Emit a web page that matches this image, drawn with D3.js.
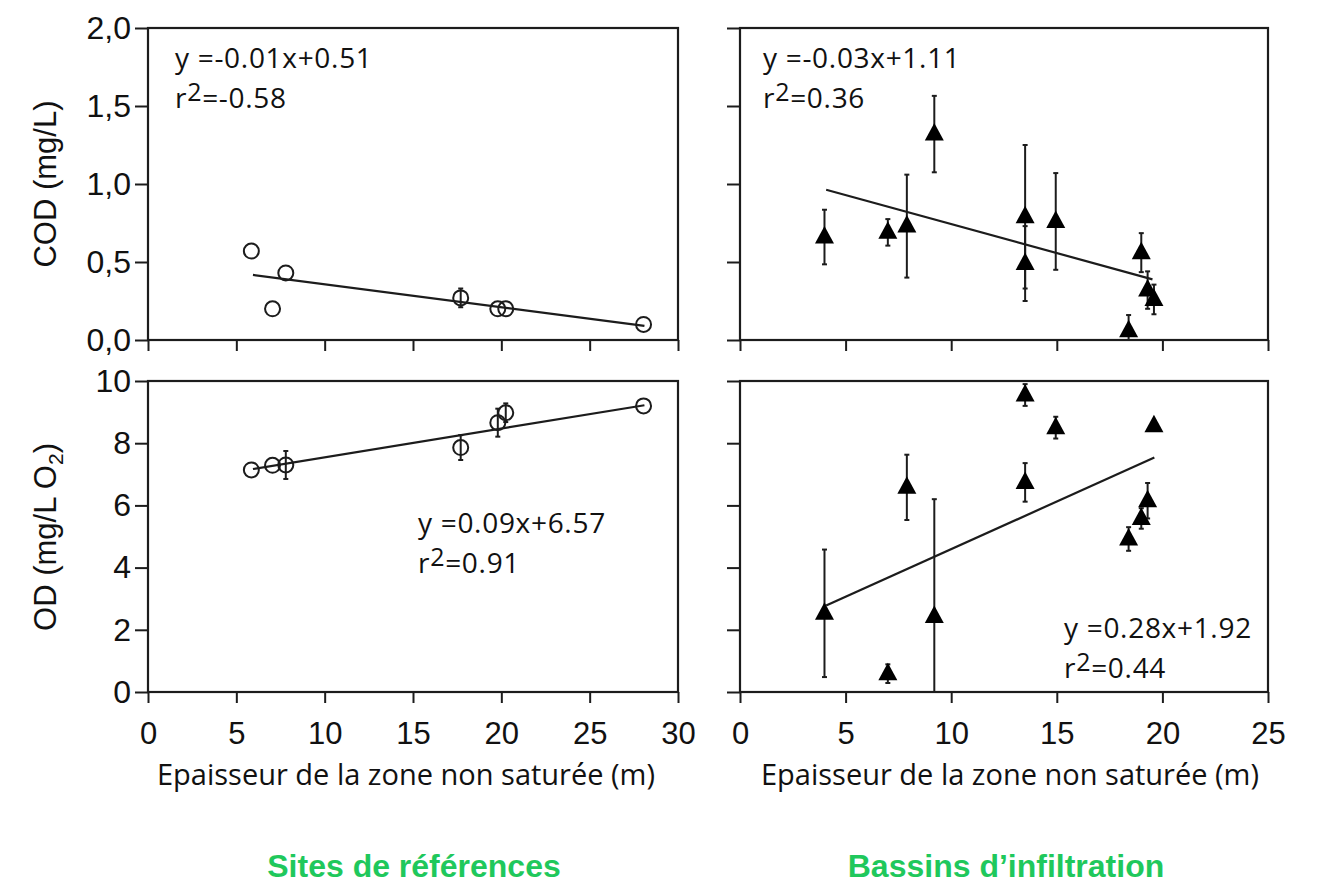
<!DOCTYPE html>
<html>
<head>
<meta charset="utf-8">
<script src="https://cdnjs.cloudflare.com/ajax/libs/d3/7.8.5/d3.min.js"></script>
<style>
    body { margin: 0; background: #ffffff; }
</style>
</head>
<body>
<div id="chart"></div>
<script>
// COD / OD vs thickness of the unsaturated zone
// left = reference sites (circles), right = infiltration basins (triangles)

// Reference sites: depth of unsaturated zone (m)
var refDepth = [5.85, 7.05, 7.8, 17.7, 19.8, 20.25, 28.05];
var refCOD = [0.57, 0.20, 0.43, 0.27, 0.20, 0.20, 0.10];
var refCODErr = [0, 0, 0, 0.06, 0, 0, 0];
var refOD = [7.14, 7.29, 7.30, 7.86, 8.66, 8.98, 9.20];
var refODErr = [0, 0, 0.45, 0.40, 0.45, 0.30, 0];

// Infiltration basins
var basinDepth = [4.0, 7.0, 7.9, 9.2, 13.5, 13.5, 14.95, 18.4, 19.0, 19.3, 19.6];
var basinCOD = [0.66, 0.69, 0.73, 1.32, 0.79, 0.49, 0.76, 0.06, 0.56, 0.32, 0.26];
var basinCODErr = [0.175, 0.085, 0.33, 0.245, 0.46, 0.24, 0.31, 0.10, 0.125, 0.12, 0.095];
var basinOD = [2.53, 0.59, 6.58, 2.43, 9.55, 6.74, 8.50, 4.92, 5.58, 6.15, 8.56];
var basinODErr = [2.05, 0.30, 1.05, 3.77, 0.35, 0.62, 0.35, 0.38, 0.33, 0.57, 0];

// Regression lines, read as [start, end] points
var refCODFit = [[5.94, 0.417], [28.1, 0.09]];
var refODFit = [[5.94, 7.17], [28.1, 9.22]];
var basinCODFit = [[4.08, 0.963], [19.53, 0.389]];
var basinODFit = [[4.08, 2.78], [19.62, 7.54]];

// Equation texts
var refCODEq = ["y =-0.01x+0.51", "=-0.58"];
var refODEq = ["y =0.09x+6.57", "=0.91"];
var basinCODEq = ["y =-0.03x+1.11", "=0.36"];
var basinODEq = ["y =0.28x+1.92", "=0.44"];

// Axis ticks
var codTicks = [0, 0.5, 1.0, 1.5, 2.0];
var odTicks = [0, 2, 4, 6, 8, 10];
var refXTicks = [0, 5, 10, 15, 20, 25, 30];
var basinXTicks = [0, 5, 10, 15, 20, 25];

var xTitle = "Epaisseur de la zone non saturée (m)";
var groupTitles = ["Sites de références", "Bassins d\u2019infiltration"];

(function() {

    var width = 1319;
    var height = 895;
    var ink = "#1c1c1c";
    var eqFont = "'Open Sans', 'DejaVu Sans', sans-serif";
    var axFont = "'Liberation Sans', Arial, sans-serif";

    var svg = d3.select("#chart")
        .append("svg")
        .attr("width", width)
        .attr("height", height);

    svg.append("rect")
        .attr("width", width)
        .attr("height", height)
        .attr("fill", "#ffffff");

    // Scales
    var xRef = d3.scaleLinear().domain([0, 30]).range([148, 678]);
    var xBasin = d3.scaleLinear().domain([0, 25]).range([740, 1268]);
    var yCOD = d3.scaleLinear().domain([0, 2]).range([340, 28]);
    var yOD = d3.scaleLinear().domain([0, 10]).range([692, 381]);

    function commaFormat(d) {
        return d3.format(".1f")(d).replace(".", ",");
    }

    function drawPanel(opt) {
        var x = opt.x;
        var y = opt.y;
        var g = svg.append("g");
        var x0 = x.range()[0], x1 = x.range()[1];
        var y0 = y.range()[1], y1 = y.range()[0];

        // Frame
        g.append("rect")
            .attr("x", x0)
            .attr("y", y0)
            .attr("width", x1 - x0)
            .attr("height", y1 - y0)
            .attr("fill", "none")
            .attr("stroke", ink)
            .attr("stroke-width", 2.2);

        // Bottom axis: ticks pointing down, labels only on lower row
        var xAxis = d3.axisBottom(x)
            .tickValues(opt.xTicks)
            .tickSize(11)
            .tickPadding(19)
            .tickFormat(opt.xLabels ? d3.format("d") : "");

        var xg = g.append("g")
            .attr("transform", "translate(0," + y1 + ")")
            .call(xAxis);

        xg.select(".domain").remove();
        xg.selectAll(".tick line")
            .attr("stroke", ink)
            .attr("stroke-width", 2);
        xg.selectAll(".tick text")
            .attr("fill", "#111")
            .style("font-family", axFont)
            .style("font-size", "31px");

        // Left axis
        var yAxis = d3.axisLeft(y)
            .tickValues(opt.yTicks)
            .tickSize(13)
            .tickPadding(4)
            .tickFormat(opt.yLabels ? opt.yFormat : "");

        var yg = g.append("g")
            .attr("transform", "translate(" + x0 + ",0)")
            .call(yAxis);

        yg.select(".domain").remove();
        yg.selectAll(".tick line")
            .attr("stroke", ink)
            .attr("stroke-width", 2);
        yg.selectAll(".tick text")
            .attr("fill", "#111")
            .style("font-family", axFont)
            .style("font-size", "32px");

        // Error bars
        var ymin = y.domain()[0], ymax = y.domain()[1];
        var errs = opt.depth.map(function(d, i) {
            return { x: d, v: opt.values[i], e: opt.errors[i] };
        }).filter(function(d) {
            return d.e > 0;
        });

        var eb = g.append("g");
        eb.selectAll(".err")
            .data(errs)
            .enter()
            .append("line")
            .attr("x1", function(d) { return x(d.x); })
            .attr("x2", function(d) { return x(d.x); })
            .attr("y1", function(d) { return y(Math.min(ymax, d.v + d.e)); })
            .attr("y2", function(d) { return y(Math.max(ymin, d.v - d.e)); })
            .attr("stroke", ink)
            .attr("stroke-width", 2);

        // Little caps at the end of each bar
        errs.forEach(function(d) {
            [d.v + d.e, d.v - d.e].forEach(function(v) {
                if (v < ymin || v > ymax) {
                    return;
                }
                eb.append("line")
                    .attr("x1", x(d.x) - 2.5)
                    .attr("x2", x(d.x) + 2.5)
                    .attr("y1", y(v))
                    .attr("y2", y(v))
                    .attr("stroke", ink)
                    .attr("stroke-width", 2);
            });
        });

        // Regression line
        g.append("line")
            .attr("x1", x(opt.fit[0][0]))
            .attr("y1", y(opt.fit[0][1]))
            .attr("x2", x(opt.fit[1][0]))
            .attr("y2", y(opt.fit[1][1]))
            .attr("stroke", ink)
            .attr("stroke-width", 2.2);

        // Points
        var pts = opt.depth.map(function(d, i) {
            return { x: d, v: opt.values[i] };
        });

        if (opt.marker === "circle") {
            g.selectAll(".pt")
                .data(pts)
                .enter()
                .append("circle")
                .attr("cx", function(d) { return x(d.x); })
                .attr("cy", function(d) { return y(d.v); })
                .attr("r", 7.5)
                .attr("fill", "none")
                .attr("stroke", ink)
                .attr("stroke-width", 2);
        } else {
            g.selectAll(".pt")
                .data(pts)
                .enter()
                .append("path")
                .attr("transform", function(d) {
                    return "translate(" + x(d.x) + "," + y(d.v) + ")";
                })
                .attr("d", "M0,-11L9.5,6.5L-9.5,6.5Z")
                .attr("fill", "#000");
        }

        // Equation
        var eq = g.append("g")
            .style("font-family", eqFont)
            .style("font-size", "28px")
            .style("letter-spacing", "0.7px")
            .attr("fill", "#111");

        eq.append("text")
            .attr("x", opt.eqPos[0])
            .attr("y", opt.eqPos[1])
            .text(opt.eq[0]);

        var r2 = eq.append("text")
            .attr("x", opt.eqPos[0])
            .attr("y", opt.eqPos[1] + 40);
        r2.append("tspan").text("r");
        r2.append("tspan")
            .attr("dy", -7)
            .style("font-size", "25px")
            .text("2");
        r2.append("tspan")
            .attr("dy", 7)
            .text(opt.eq[1]);
    }

    drawPanel({
        x: xRef, y: yCOD, xTicks: refXTicks, yTicks: codTicks,
        xLabels: false, yLabels: true, yFormat: commaFormat,
        depth: refDepth, values: refCOD, errors: refCODErr,
        fit: refCODFit, marker: "circle",
        eq: refCODEq, eqPos: [175, 68]
    });

    drawPanel({
        x: xRef, y: yOD, xTicks: refXTicks, yTicks: odTicks,
        xLabels: true, yLabels: true, yFormat: d3.format("d"),
        depth: refDepth, values: refOD, errors: refODErr,
        fit: refODFit, marker: "circle",
        eq: refODEq, eqPos: [418, 533]
    });

    drawPanel({
        x: xBasin, y: yCOD, xTicks: basinXTicks, yTicks: codTicks,
        xLabels: false, yLabels: false,
        depth: basinDepth, values: basinCOD, errors: basinCODErr,
        fit: basinCODFit, marker: "triangle",
        eq: basinCODEq, eqPos: [763, 68]
    });

    drawPanel({
        x: xBasin, y: yOD, xTicks: basinXTicks, yTicks: odTicks,
        xLabels: true, yLabels: false,
        depth: basinDepth, values: basinOD, errors: basinODErr,
        fit: basinODFit, marker: "triangle",
        eq: basinODEq, eqPos: [1064, 638]
    });

    // Y axis titles
    svg.append("text")
        .attr("transform", "translate(56,184) rotate(-90)")
        .attr("text-anchor", "middle")
        .style("font-family", axFont)
        .style("font-size", "31px")
        .attr("fill", "#111")
        .text("COD (mg/L)");

    var odTitle = svg.append("text")
        .attr("transform", "translate(56,537) rotate(-90)")
        .attr("text-anchor", "middle")
        .style("font-family", axFont)
        .style("font-size", "31px")
        .attr("fill", "#111");
    odTitle.append("tspan").text("OD (mg/L O");
    odTitle.append("tspan").attr("dy", 7).style("font-size", "21px").text("2");
    odTitle.append("tspan").attr("dy", -7).text(")");

    // X axis titles
    [[xRef, -7], [xBasin, 6]].forEach(function(p) {
        var x = p[0];
        svg.append("text")
            .attr("x", (x.range()[0] + x.range()[1]) / 2 + p[1])
            .attr("y", 785)
            .attr("text-anchor", "middle")
            .style("font-family", eqFont)
            .style("font-size", "29px")
            .attr("fill", "#111")
            .text(xTitle);
    });

    // Group labels in green
    svg.selectAll(".group")
        .data(groupTitles)
        .enter()
        .append("text")
        .attr("x", function(d, i) { return i === 0 ? 414 : 1006; })
        .attr("y", 877)
        .attr("text-anchor", "middle")
        .style("font-family", axFont)
        .style("font-size", "32px")
        .style("font-weight", "bold")
        .attr("fill", "#1fc85c")
        .text(function(d) { return d; });

})();
</script>
</body>
</html>
